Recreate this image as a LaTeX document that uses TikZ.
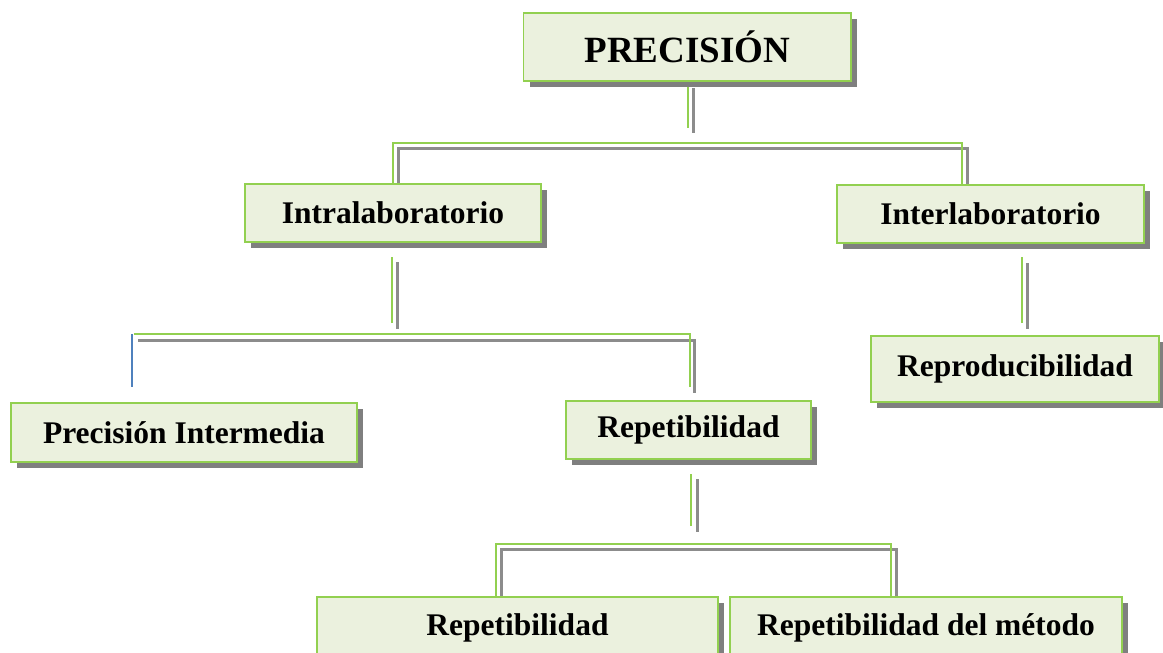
\documentclass[tikz,border=0pt]{standalone}
\usepackage{fontspec}
\setmainfont{Liberation Serif}
\usetikzlibrary{shadows,backgrounds,calc}
\definecolor{boxgreen}{HTML}{92D050}
\definecolor{boxfill}{HTML}{EBF1DE}
\definecolor{shadowgray}{HTML}{7F7F7F}
\definecolor{linegray}{HTML}{8C8C8C}
\definecolor{lineblue}{HTML}{4F81BD}
\tikzset{
  box/.style={draw=boxgreen, line width=1.6pt, fill=boxfill, inner sep=0pt,
    text=black, align=center,
    font=\bfseries\fontsize{31.5}{36}\selectfont,
    drop shadow={shadow xshift=6pt, shadow yshift=-6pt, fill=shadowgray, opacity=1}},
  gl/.style={draw=boxgreen, line width=1.6pt},
  gy/.style={draw=linegray, line width=3pt},
  bl/.style={draw=lineblue, line width=1.6pt},
}
\begin{document}
\begin{tikzpicture}[x=1pt, y=-1pt]
\path[use as bounding box, clip] (0,0) rectangle (1163,653);

\node[box, minimum width=327.5pt, minimum height=68pt, font=\bfseries\fontsize{37}{42}\selectfont] (P) at (687.25,47) {PRECISIÓN};
\node[box, minimum width=296pt, minimum height=58pt] (IA) at (393,213) {Intralaboratorio};
\node[box, minimum width=307pt, minimum height=58pt] (IE) at (990.5,214) {Interlaboratorio};
\node[box, minimum width=288pt, minimum height=66pt] (RP) at (1015,369) {Reproducibilidad};
\node[box, minimum width=346pt, minimum height=59pt] (PI) at (184,432.5) {Precisión Intermedia};
\node[box, minimum width=245pt, minimum height=58pt] (R1) at (688.5,430) {Repetibilidad};
\node[box, minimum width=401pt, minimum height=61pt] (R2) at (517.5,627.5) {Repetibilidad};
\node[box, minimum width=392pt, minimum height=61pt] (R3) at (926,627.5) {Repetibilidad del método};

% coordinates of connector bends / free ends
\coordinate (a1) at (688,128);
\coordinate (a2) at (962,143);
\coordinate (b1) at (693,133);
\coordinate (b2) at (398,148);
\coordinate (b3) at (967,148);
\coordinate (c1) at (392,257);
\coordinate (c2) at (392,323);
\coordinate (d1) at (397,262);
\coordinate (d2) at (397,329);
\coordinate (c3) at (134,334);
\coordinate (c4) at (690,334);
\coordinate (c5) at (690,387);
\coordinate (e1) at (132,334);
\coordinate (e2) at (132,387);
\coordinate (d3) at (138,340);
\coordinate (d4) at (694,340);
\coordinate (d5) at (694,393);
\coordinate (f1) at (1022,257);
\coordinate (f2) at (1022,323);
\coordinate (g1) at (1027,263);
\coordinate (g2) at (1027,329);
\coordinate (h1) at (691,474);
\coordinate (h2) at (691,526);
\coordinate (i1) at (697,479);
\coordinate (i2) at (697,532);
\coordinate (h3) at (496,544);
\coordinate (h4) at (891,544);
\coordinate (i3) at (501,549);
\coordinate (i4) at (896,549);

\begin{scope}[on background layer]
  % PRECISION -> Intra / Inter
  \draw[gy] (P.south -| b1) ++(0,6) -- (b1);
  \draw[gl] (P.south -| a1) -- (a1);
  \draw[gy] (IA.north -| b2) ++(0,6) -- (b2) -- (b3) -- ($(IE.north -| b3)+(0,6)$);
  \draw[gl] (IA.north) |- (a2) -- (IE.north -| a2);
  % Intra -> Precision Intermedia / Repetibilidad
  \draw[gy] (d1) -- (d2);
  \draw[gl] (c1) -- (c2);
  \draw[gy] (d3) -- (d4) -- (d5);
  \draw[gl] (c3) -- (c4) -- (c5);
  \draw[bl] (e1) -- (e2);
  % Inter -> Reproducibilidad
  \draw[gy] (g1) -- (g2);
  \draw[gl] (f1) -- (f2);
  % Repetibilidad -> Repetibilidad / Repetibilidad del metodo
  \draw[gy] (i1) -- (i2);
  \draw[gl] (h1) -- (h2);
  \draw[gy] ($(R2.north -| i3)+(0,6)$) -- (i3) -- (i4) -- ($(R3.north -| i4)+(0,6)$);
  \draw[gl] (R2.north -| h3) -- (h3) -- (h4) -- (R3.north -| h4);
\end{scope}
\end{tikzpicture}
\end{document}
